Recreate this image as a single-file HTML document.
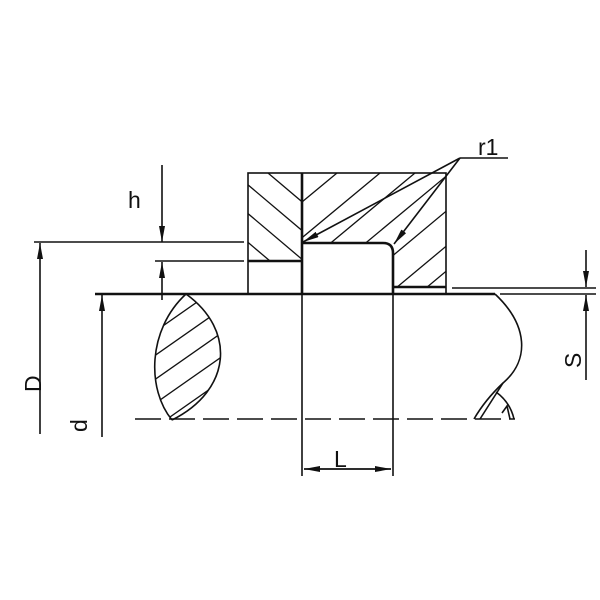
<!DOCTYPE html>
<html><head><meta charset="utf-8"><style>
html,body{margin:0;padding:0;background:#fff;}
svg{display:block;}
text{font-family:"Liberation Sans",sans-serif;fill:#111;}
</style></head><body>
<svg width="600" height="600" viewBox="0 0 600 600" xmlns="http://www.w3.org/2000/svg">
<defs>
<clipPath id="cl"><rect x="248" y="173" width="54" height="88"/></clipPath>
<clipPath id="cr"><path d="M302,173 H446 V287 H393 V253 Q393,243 383,243 H302 Z"/></clipPath>
<clipPath id="lens"><path d="M186,294 C236,330 232,390 172,420 C147,390 147,330 186,294 Z"/></clipPath>
<marker id="ar" viewBox="0 0 16 6" refX="16" refY="3" markerWidth="16" markerHeight="6" markerUnits="userSpaceOnUse" orient="auto"><path d="M0,0 L16,3 L0,6 Z" fill="#111"/></marker>
</defs>
<g stroke="#111" fill="none" stroke-width="1.6">
<g clip-path="url(#cl)" stroke-width="1.3">
<line x1="268" y1="173" x2="372" y2="261"/>
<line x1="234" y1="173" x2="338" y2="261"/>
<line x1="200" y1="173" x2="304" y2="261"/>
<line x1="166" y1="173" x2="270" y2="261"/>
</g>
<g clip-path="url(#cr)" stroke-width="1.3">
<line x1="302" y1="202" x2="337" y2="173"/>
<line x1="280" y1="256" x2="380" y2="173"/>
<line x1="315" y1="256" x2="415" y2="173"/>
<line x1="350" y1="256" x2="450" y2="173"/>
<line x1="360" y1="283" x2="480" y2="183"/>
<line x1="390" y1="293" x2="510" y2="193"/>
<line x1="420" y1="293" x2="540" y2="193"/>
<line x1="450" y1="293" x2="570" y2="193"/>
</g>
<rect x="248" y="173" width="198" height="121"/>
<line x1="302" y1="173" x2="302" y2="294" stroke-width="2.6"/>
<line x1="248" y1="261" x2="302" y2="261" stroke-width="2.6"/>
<path d="M302,243 H383 Q393,243 393,253 V294" stroke-width="2.6"/>
<line x1="393" y1="287" x2="446" y2="287" stroke-width="2.6"/>
<line x1="95" y1="294" x2="495" y2="294" stroke-width="2.6"/>
<line x1="500" y1="294" x2="596" y2="294"/>
<line x1="452" y1="288" x2="596" y2="288"/>
<g clip-path="url(#lens)" stroke-width="1.3">
<line x1="140" y1="318" x2="230" y2="255"/>
<line x1="140" y1="342" x2="230" y2="279"/>
<line x1="140" y1="366" x2="230" y2="303"/>
<line x1="140" y1="390" x2="230" y2="327"/>
<line x1="140" y1="414" x2="230" y2="351"/>
<line x1="140" y1="438" x2="230" y2="375"/>
<line x1="140" y1="462" x2="230" y2="399"/>
</g>
<path d="M186,294 C236,330 232,390 172,420"/>
<path d="M186,294 C147,330 147,390 172,420"/>
<path d="M495,294 C528,325 530,360 503,383 Q485,400 474,419"/>
<path d="M503,383 L480,419"/>
<path d="M496,392 Q510,402 514,419"/>
<path d="M502,413 L507,406 L510,419"/>
<line x1="135" y1="419" x2="515" y2="419" stroke-dasharray="26,8"/>
<line x1="302" y1="294" x2="302" y2="476"/>
<line x1="393" y1="294" x2="393" y2="476"/>
<line x1="304" y1="469" x2="391" y2="469" marker-end="url(#ar)"/>
<line x1="391" y1="469" x2="304" y2="469" marker-end="url(#ar)"/>
<line x1="34" y1="242" x2="244" y2="242"/>
<line x1="40" y1="434" x2="40" y2="243" marker-end="url(#ar)"/>
<line x1="102" y1="437" x2="102" y2="295" marker-end="url(#ar)"/>
<line x1="155" y1="261" x2="244" y2="261"/>
<line x1="162" y1="165" x2="162" y2="242" marker-end="url(#ar)"/>
<line x1="162" y1="300" x2="162" y2="262" marker-end="url(#ar)"/>
<line x1="586" y1="250" x2="586" y2="287" marker-end="url(#ar)"/>
<line x1="586" y1="380" x2="586" y2="295" marker-end="url(#ar)"/>
<line x1="460" y1="158" x2="508" y2="158"/>
<line x1="460" y1="158" x2="303" y2="242" marker-end="url(#ar)"/>
<line x1="460" y1="158" x2="394" y2="244" marker-end="url(#ar)"/>
</g>
<text x="478" y="155" font-size="23">r1</text>
<text x="128" y="208" font-size="23">h</text>
<text x="334" y="467" font-size="23">L</text>
<text transform="translate(41,392) rotate(-90)" font-size="23">D</text>
<text transform="translate(87,432) rotate(-90)" font-size="23">d</text>
<text transform="translate(581,368) rotate(-90)" font-size="23">S</text>
</svg>
</body></html>
